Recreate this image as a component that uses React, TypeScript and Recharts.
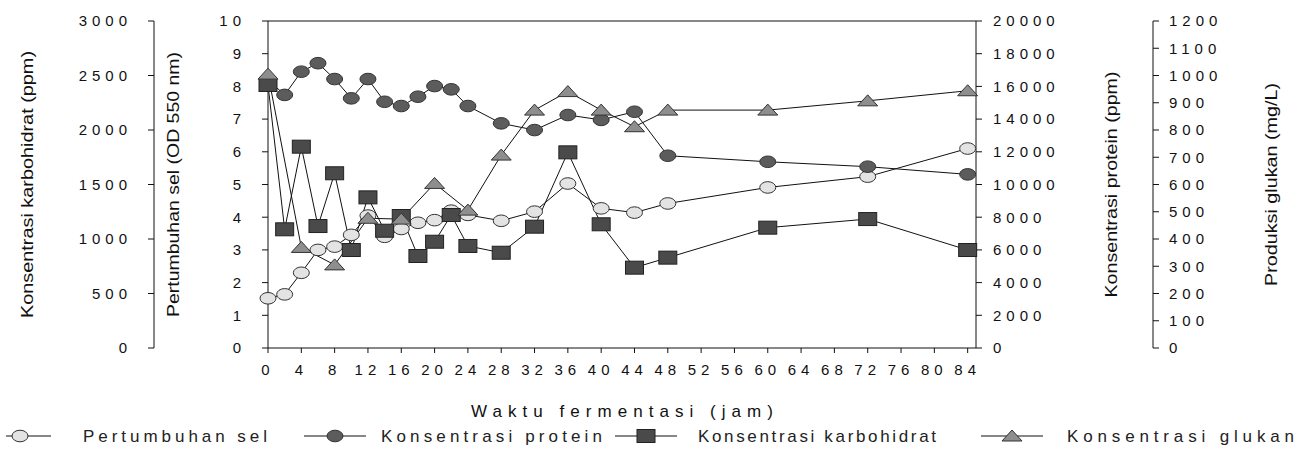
import { ComposedChart, Line, XAxis, YAxis, ReferenceLine, Legend } from 'recharts'

// fermentation time (hours) for growth, protein and carbohydrate
const hours = [0, 2, 4, 6, 8, 10, 12, 14, 16, 18, 20, 22, 24, 28, 32, 36, 40, 44, 48, 60, 72, 84]
const cellGrowth = [1.52, 1.64, 2.3, 3.0, 3.1, 3.46, 4.05, 3.4, 3.64, 3.83, 3.91, 4.2, 4.07, 3.89, 4.17, 5.03, 4.27, 4.14, 4.42, 4.91, 5.24, 6.1]
const protein = [16400, 15480, 16900, 17420, 16450, 15270, 16450, 15060, 14800, 15370, 16020, 15820, 14800, 13740, 13330, 14250, 13950, 14450, 11760, 11390, 11090, 10620]
const carbohydrate = [2413, 1089, 1847, 1119, 1603, 899, 1382, 1076, 1211, 844, 975, 1220, 936, 874, 1113, 1795, 1135, 737, 829, 1104, 1183, 899]
// glucan was sampled less often
const glucanHours = [0, 4, 8, 12, 16, 20, 24, 28, 32, 36, 40, 44, 48, 60, 72, 84]
const glucan = [1005, 369, 305, 476, 473, 604, 506, 708, 873, 941, 873, 812, 873, 873, 907, 944]

const xTicks = [0, 4, 8, 12, 16, 20, 24, 28, 32, 36, 40, 44, 48, 52, 56, 60, 64, 68, 72, 76, 80, 84]
const odTicks = [0, 1, 2, 3, 4, 5, 6, 7, 8, 9, 10]
const carbTicks = [0, 500, 1000, 1500, 2000, 2500, 3000]
const proteinTicks = [0, 2000, 4000, 6000, 8000, 10000, 12000, 14000, 16000, 18000, 20000]
const glucanTicks = [0, 100, 200, 300, 400, 500, 600, 700, 800, 900, 1000, 1100, 1200]

const growthData = hours.map((h, i) => ({ h, v: cellGrowth[i] }))
const proteinData = hours.map((h, i) => ({ h, v: protein[i] }))
const carbData = hours.map((h, i) => ({ h, v: carbohydrate[i] }))
const glucanData = glucanHours.map((h, i) => ({ h, v: glucan[i] }))

const FONT = '"Liberation Sans", Arial, sans-serif'

// axis ids: recharts stacks same-side axes in id order, first one next to the plot
const OD = 'y1-od'
const CARB = 'y2-carb'
const PROT = 'y3-protein'
const GLUC = 'y4-glucan'

type Kind = 'light' | 'dark' | 'square' | 'triangle'

function Marker({ kind, cx, cy }: { kind: Kind; cx: number; cy: number }) {
  if (cx == null || cy == null) return null
  if (kind === 'light') return <ellipse cx={cx} cy={cy} rx={8} ry={5.8} fill="#e3e3e3" stroke="#333" strokeWidth={1} />
  if (kind === 'dark') return <ellipse cx={cx} cy={cy} rx={8} ry={5.8} fill="#5c5c5c" stroke="#333" strokeWidth={1} />
  if (kind === 'square') return <rect x={cx - 9} y={cy - 6.5} width={18} height={13} fill="#4a4a4a" stroke="#222" strokeWidth={1} />
  return <polygon points={`${cx - 10},${cy + 5} ${cx + 10},${cy + 5} ${cx},${cy - 6}`} fill="#8e8e8e" stroke="#333" strokeWidth={1} />
}

const dotFor = (kind: Kind) => (p: any) => <Marker key={`${kind}-${p.index}`} kind={kind} cx={p.cx} cy={p.cy} />

const makeTick = (anchor: 'start' | 'end' | 'middle', dy: string) => (p: any) => (
  <text
    x={p.x}
    y={p.y}
    dy={dy}
    textAnchor={anchor}
    fontFamily={FONT}
    fontSize={15}
    letterSpacing={5}
    fill="#111"
  >
    {p.payload.value}
  </text>
)

function AxisTitle({ viewBox, text, dx, length, rotate = true, dy = 0 }: any) {
  const vb = viewBox || { x: 0, y: 0, width: 0, height: 0 }
  if (!rotate) {
    const x = vb.x + vb.width / 2
    const y = vb.y + dy
    return (
      <text x={x} y={y} textAnchor="middle" fontFamily={FONT} fontSize={17} fill="#111"
        textLength={length} lengthAdjust="spacing">
        {text}
      </text>
    )
  }
  const x = vb.x + dx
  const y = vb.y + vb.height / 2
  return (
    <text x={x} y={y} dy="0.35em" textAnchor="middle" transform={`rotate(-90 ${x} ${y})`}
      fontFamily={FONT} fontSize={17} fill="#111" textLength={length} lengthAdjust="spacingAndGlyphs">
      {text}
    </text>
  )
}

const legendItems: { label: string; kind: Kind; cx: number; tx: number; len: number }[] = [
  { label: 'Pertumbuhan sel', kind: 'light', cx: 20, tx: 83, len: 184 },
  { label: 'Konsentrasi protein', kind: 'dark', cx: 335, tx: 381, len: 221 },
  { label: 'Konsentrasi karbohidrat', kind: 'square', cx: 646, tx: 698, len: 238 },
  { label: 'Konsentrasi glukan', kind: 'triangle', cx: 1012, tx: 1067, len: 227 },
]

function LegendRow() {
  return (
    <svg width={1296} height={26} style={{ display: 'block' }}>
      {legendItems.map(it => (
        <g key={it.label}>
          <line x1={Math.max(6, it.cx - 31)} x2={it.cx + 31} y1={12} y2={12} stroke="#111" strokeWidth={1.2} />
          <Marker kind={it.kind} cx={it.cx} cy={12} />
          <text x={it.tx} y={18} fontFamily={FONT} fontSize={17} fill="#222"
            textLength={it.len} lengthAdjust="spacing">
            {it.label}
          </text>
        </g>
      ))}
    </svg>
  )
}

export default function App() {
  return (
    <div style={{ position: 'absolute', left: 0, top: 0, width: 1296, height: 450, background: '#fff' }}>
      <ComposedChart width={1296} height={450} margin={{ top: 21, right: 0, bottom: 0, left: 0 }}>
        <XAxis
          dataKey="h"
          type="number"
          domain={[0, 85]}
          ticks={xTicks}
          allowDuplicatedCategory={false}
          height={76}
          tickSize={5}
          tickMargin={11}
          stroke="#111"
          tick={makeTick('middle', '0.71em')}
          label={<AxisTitle text="Waktu fermentasi (jam)" rotate={false} dy={69} length={302} />}
        />
        <YAxis
          yAxisId={OD}
          orientation="left"
          width={114}
          domain={[0, 10]}
          ticks={odTicks}
          tickSize={6}
          tickMargin={16}
          stroke="#111"
          tick={makeTick('end', '0.355em')}
          label={<AxisTitle text="Pertumbuhan sel (OD 550 nm)" dx={19} length={265} />}
        />
        <YAxis
          yAxisId={CARB}
          orientation="left"
          width={154}
          domain={[0, 3000]}
          ticks={carbTicks}
          tickSize={6}
          tickMargin={16}
          stroke="#111"
          tick={makeTick('end', '0.355em')}
          label={<AxisTitle text="Konsentrasi karbohidrat (ppm)" dx={27} length={267} />}
        />
        <YAxis
          yAxisId={PROT}
          orientation="right"
          width={177}
          domain={[0, 20000]}
          ticks={proteinTicks}
          tickSize={6}
          tickMargin={11}
          stroke="#111"
          tick={makeTick('start', '0.355em')}
          label={<AxisTitle text="Konsentrasi protein (ppm)" dx={135} length={226} />}
        />
        <YAxis
          yAxisId={GLUC}
          orientation="right"
          width={143}
          domain={[0, 1200]}
          ticks={glucanTicks}
          tickSize={6}
          tickMargin={10}
          stroke="#111"
          tick={makeTick('start', '0.355em')}
          label={<AxisTitle text="Produksi glukan (mg/L)" dx={118} length={203} />}
        />
        <ReferenceLine yAxisId={OD} y={10} stroke="#111" />
        <Legend verticalAlign="bottom" height={26} wrapperStyle={{ left: 0, bottom: 0 }} content={() => <LegendRow />} />
        <Line yAxisId={OD} data={growthData} dataKey="v" name="Pertumbuhan sel" stroke="#111" strokeWidth={1}
          dot={dotFor('light')} activeDot={false} isAnimationActive={false} />
        <Line yAxisId={PROT} data={proteinData} dataKey="v" name="Konsentrasi protein" stroke="#111" strokeWidth={1}
          dot={dotFor('dark')} activeDot={false} isAnimationActive={false} />
        <Line yAxisId={CARB} data={carbData} dataKey="v" name="Konsentrasi karbohidrat" stroke="#111" strokeWidth={1}
          dot={dotFor('square')} activeDot={false} isAnimationActive={false} />
        <Line yAxisId={GLUC} data={glucanData} dataKey="v" name="Konsentrasi glukan" stroke="#111" strokeWidth={1}
          dot={dotFor('triangle')} activeDot={false} isAnimationActive={false} />
      </ComposedChart>
    </div>
  )
}
